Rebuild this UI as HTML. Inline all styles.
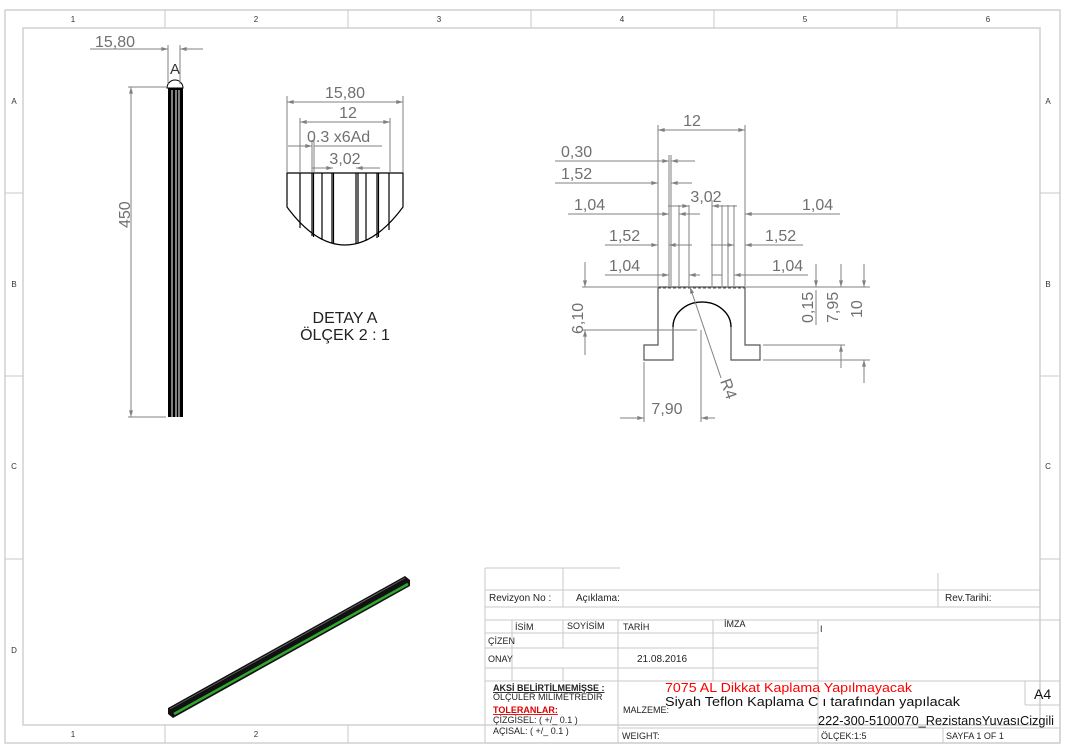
<!DOCTYPE html>
<html><head><meta charset="utf-8"><style>
body{margin:0;background:#fff}
svg{display:block}
text{font-family:"Liberation Sans","DejaVu Sans",sans-serif}
.d{stroke:#808080;stroke-width:1;fill:none}
.t{fill:#707070;font-size:16px}
.k{stroke:#000;fill:none;stroke-width:1.2}
.f{stroke:#d0d0d0;fill:none;stroke-width:1.5}
.g{stroke:#c8c8c8;fill:none;stroke-width:1}
.s{font-size:9px;fill:#222}
.z{font-size:8px;fill:#333}
</style></head><body>
<svg width="1071" height="753" viewBox="0 0 1071 753" xmlns="http://www.w3.org/2000/svg">
<defs>
<marker id="a" viewBox="0 0 10 6" refX="10" refY="3" markerWidth="10" markerHeight="4" orient="auto-start-reverse" markerUnits="userSpaceOnUse"><path d="M0,0L10,3L0,6z" fill="#808080"/></marker>
</defs>
<rect x="5" y="10" width="1055" height="733" class="f"/>
<rect x="23" y="28" width="1017" height="697" class="f"/>
<g class="g">
<line x1="165" y1="10" x2="165" y2="28"/><line x1="348" y1="10" x2="348" y2="28"/><line x1="531" y1="10" x2="531" y2="28"/><line x1="714" y1="10" x2="714" y2="28"/><line x1="897" y1="10" x2="897" y2="28"/>
<line x1="165" y1="725" x2="165" y2="743"/><line x1="348" y1="725" x2="348" y2="743"/>
<line x1="5" y1="193" x2="23" y2="193"/><line x1="5" y1="376" x2="23" y2="376"/><line x1="5" y1="559" x2="23" y2="559"/>
<line x1="1040" y1="193" x2="1060" y2="193"/><line x1="1040" y1="376" x2="1060" y2="376"/><line x1="1040" y1="559" x2="1060" y2="559"/>
</g>
<g class="z" text-anchor="middle">
<text x="73" y="22">1</text><text x="256" y="22">2</text><text x="439" y="22">3</text><text x="622" y="22">4</text><text x="805" y="22">5</text><text x="988" y="22">6</text>
<text x="73" y="737">1</text><text x="256" y="737">2</text>
<text x="14" y="104">A</text><text x="14" y="287">B</text><text x="14" y="469">C</text><text x="14" y="653">D</text>
<text x="1048" y="104">A</text><text x="1048" y="287">B</text><text x="1048" y="469">C</text>
</g>

<rect x="168" y="88" width="15" height="329" fill="#000"/>
<line x1="172" y1="90" x2="172" y2="417" stroke="#fff" stroke-width="1"/>
<line x1="176" y1="90" x2="176" y2="417" stroke="#fff" stroke-width="1"/>
<line x1="179" y1="90" x2="179" y2="417" stroke="#fff" stroke-width="1"/>
<path d="M167,88 A8,8 0 0 1 183,88 Z" fill="#fff" stroke="#000"/>
<text x="175" y="74" text-anchor="middle" font-size="15" fill="#333">A</text>
<g class="d">
<line x1="128" y1="87" x2="166" y2="87"/><line x1="128" y1="417" x2="166" y2="417"/>
<line x1="131" y1="87" x2="131" y2="417" marker-start="url(#a)" marker-end="url(#a)"/>
<line x1="168" y1="45" x2="168" y2="84"/><line x1="180" y1="45" x2="180" y2="84"/>
<line x1="90" y1="49" x2="168" y2="49" marker-end="url(#a)"/><line x1="203" y1="49" x2="180" y2="49" marker-end="url(#a)"/>
</g>
<text class="t" x="95" y="47">15,80</text>
<text class="t" transform="translate(130,228) rotate(-90)">450</text>

<path d="M287,173 L403,173 L403,207 Q375,245 345,245 Q315,245 287,207 Z" class="k"/>
<g class="k" stroke-width="1">
<line x1="300" y1="173" x2="300" y2="228"/><line x1="312" y1="173" x2="312" y2="236"/><line x1="313.5" y1="173" x2="313.5" y2="237"/>
<line x1="322" y1="173" x2="322" y2="240"/><line x1="332" y1="173" x2="332" y2="243"/><line x1="333.5" y1="173" x2="333.5" y2="243"/>
<line x1="356" y1="173" x2="356" y2="243"/><line x1="358" y1="173" x2="358" y2="243"/><line x1="366" y1="173" x2="366" y2="241"/>
<line x1="377" y1="173" x2="377" y2="238"/><line x1="378.5" y1="173" x2="378.5" y2="237"/><line x1="389" y1="173" x2="389" y2="230"/>
</g>
<g class="d">
<line x1="287" y1="96" x2="287" y2="172"/><line x1="403" y1="96" x2="403" y2="172"/>
<line x1="287" y1="102" x2="403" y2="102" marker-start="url(#a)" marker-end="url(#a)"/>
<line x1="300" y1="118" x2="300" y2="172"/><line x1="390" y1="118" x2="390" y2="172"/>
<line x1="300" y1="122" x2="390" y2="122" marker-start="url(#a)" marker-end="url(#a)"/>
<line x1="288" y1="146" x2="312" y2="146" marker-end="url(#a)"/><line x1="382" y1="146" x2="314" y2="146"/>
<line x1="312" y1="140" x2="312" y2="172"/><line x1="314" y1="140" x2="314" y2="172"/>
<line x1="312" y1="168" x2="333" y2="168" marker-end="url(#a)"/><line x1="380" y1="168" x2="356" y2="168" marker-end="url(#a)"/>
</g>
<text class="t" x="345" y="98" text-anchor="middle">15,80</text>
<text class="t" x="348" y="118" text-anchor="middle">12</text>
<text class="t" x="307" y="142">0.3 x6Ad</text>
<text class="t" x="345" y="164" text-anchor="middle">3,02</text>
<text x="345" y="323" text-anchor="middle" font-size="16" fill="#222">DETAY A</text>
<text x="345" y="340" text-anchor="middle" font-size="16" fill="#222">ÖLÇEK 2 : 1</text>

<path d="M658,287 L745,287 L745,345 L760,345 L760,360 L731,360 L731,327 A29,25 0 0 0 673,327 L673,360 L644,360 L644,345 L658,345 Z" stroke="#555" stroke-width="1.2" fill="none"/>
<path d="M731,327 A29,25 0 0 0 673,327" stroke="#000" stroke-width="1.3" fill="none"/>
<g stroke="#555" stroke-width="1" stroke-dasharray="3,2">
<line x1="658" y1="288" x2="745" y2="288"/>
</g>
<g class="d">
<line x1="658" y1="125" x2="658" y2="286"/><line x1="745" y1="125" x2="745" y2="286"/>
<line x1="658" y1="130" x2="745" y2="130" marker-start="url(#a)" marker-end="url(#a)"/>
<line x1="669" y1="155" x2="669" y2="286"/><line x1="671" y1="155" x2="671" y2="286"/>
<line x1="679" y1="205" x2="679" y2="286"/><line x1="689" y1="205" x2="689" y2="286"/>
<line x1="712" y1="200" x2="712" y2="286"/><line x1="722" y1="205" x2="722" y2="286"/>
<line x1="728" y1="205" x2="728" y2="286"/><line x1="734" y1="205" x2="734" y2="286"/>
<line x1="555" y1="161" x2="669" y2="161" marker-end="url(#a)"/><line x1="695" y1="161" x2="671" y2="161" marker-end="url(#a)"/>
<line x1="555" y1="183" x2="658" y2="183" marker-end="url(#a)"/><line x1="692" y1="183" x2="671" y2="183" marker-end="url(#a)"/>
<line x1="568" y1="214" x2="669" y2="214" marker-end="url(#a)"/><line x1="700" y1="214" x2="679" y2="214" marker-end="url(#a)"/>
<line x1="668" y1="206" x2="689" y2="206" marker-end="url(#a)"/><line x1="737" y1="206" x2="712" y2="206" marker-end="url(#a)"/>
<line x1="840" y1="214" x2="745" y2="214" marker-end="url(#a)"/>
<line x1="605" y1="245" x2="658" y2="245" marker-end="url(#a)"/><line x1="692" y1="245" x2="669" y2="245" marker-end="url(#a)"/>
<line x1="711" y1="245" x2="734" y2="245" marker-end="url(#a)"/><line x1="803" y1="245" x2="745" y2="245" marker-end="url(#a)"/>
<line x1="605" y1="275" x2="669" y2="275" marker-end="url(#a)"/><line x1="700" y1="275" x2="689" y2="275" marker-end="url(#a)"/>
<line x1="712" y1="275" x2="722" y2="275"/><line x1="808" y1="275" x2="734" y2="275" marker-end="url(#a)"/>
<line x1="582" y1="287" x2="657" y2="287"/><line x1="582" y1="330" x2="697" y2="330"/>
<line x1="585" y1="262" x2="585" y2="287" marker-end="url(#a)"/><line x1="585" y1="355" x2="585" y2="330" marker-end="url(#a)"/>
<line x1="746" y1="287" x2="870" y2="287"/><line x1="763" y1="345" x2="845" y2="345"/><line x1="763" y1="360" x2="870" y2="360"/>
<line x1="816" y1="264" x2="816" y2="287" marker-end="url(#a)"/><line x1="816" y1="325" x2="816" y2="290"/>
<line x1="841" y1="264" x2="841" y2="287" marker-end="url(#a)"/><line x1="841" y1="368" x2="841" y2="345" marker-end="url(#a)"/>
<line x1="864" y1="264" x2="864" y2="287" marker-end="url(#a)"/><line x1="864" y1="383" x2="864" y2="360" marker-end="url(#a)"/>
<line x1="721" y1="378" x2="690" y2="287" marker-end="url(#a)"/>
<line x1="644" y1="362" x2="644" y2="422"/><line x1="701" y1="330" x2="701" y2="422"/>
<line x1="620" y1="418" x2="644" y2="418" marker-end="url(#a)"/><line x1="715" y1="418" x2="701" y2="418" marker-end="url(#a)"/>
</g>
<g class="t">
<text x="692" y="126" text-anchor="middle">12</text>
<text x="561" y="157">0,30</text>
<text x="561" y="179">1,52</text>
<text x="574" y="210">1,04</text>
<text x="706" y="202" text-anchor="middle">3,02</text>
<text x="802" y="210">1,04</text>
<text x="609" y="241">1,52</text>
<text x="765" y="241">1,52</text>
<text x="609" y="271">1,04</text>
<text x="772" y="271">1,04</text>
<text x="667" y="414" text-anchor="middle">7,90</text>
<text transform="translate(583,334) rotate(-90)">6,10</text>
<text transform="translate(813,323) rotate(-90)">0,15</text>
<text transform="translate(838,323) rotate(-90)">7,95</text>
<text transform="translate(862,318) rotate(-90)">10</text>
<text transform="translate(720,381) rotate(70)">R4</text>
</g>

<polygon points="168,708 405,576 410,580 410,586 173,718 168,714" fill="#111"/>
<line x1="174" y1="714" x2="408" y2="584" stroke="#2fa82f" stroke-width="2.5"/>
<line x1="170" y1="709" x2="405" y2="578" stroke="#777" stroke-width="0.7"/>

<g class="g" stroke="#bbb">
<line x1="485" y1="568" x2="620" y2="568"/>
<line x1="485" y1="590" x2="1040" y2="590"/>
<line x1="485" y1="607" x2="1040" y2="607"/>
<line x1="485" y1="568" x2="485" y2="743"/>
<line x1="563" y1="568" x2="563" y2="607"/>
<line x1="938" y1="573" x2="938" y2="607"/>
<line x1="1040" y1="573" x2="1040" y2="607"/>
<line x1="485" y1="620" x2="1060" y2="620"/>
<line x1="485" y1="633" x2="818" y2="633"/>
<line x1="485" y1="648" x2="818" y2="648"/>
<line x1="485" y1="668" x2="818" y2="668"/>
<line x1="485" y1="681" x2="1060" y2="681"/>
<line x1="512" y1="620" x2="512" y2="681"/>
<line x1="563" y1="620" x2="563" y2="648"/>
<line x1="563" y1="668" x2="563" y2="681"/>
<line x1="618" y1="620" x2="618" y2="743"/>
<line x1="713" y1="620" x2="713" y2="681"/>
<line x1="818" y1="620" x2="818" y2="743"/>
<line x1="1025" y1="681" x2="1025" y2="705"/>
<line x1="1025" y1="705" x2="1060" y2="705"/>
<line x1="618" y1="728" x2="1060" y2="728"/>
<line x1="943" y1="728" x2="943" y2="743"/>
<line x1="485" y1="743" x2="1060" y2="743"/>
<line x1="1060" y1="620" x2="1060" y2="743"/>
</g>
<text x="489" y="601" font-size="10" fill="#222">Revizyon No :</text>
<text x="576" y="601" font-size="10" fill="#222">Açıklama:</text>
<text x="945" y="601" font-size="10" fill="#222">Rev.Tarihi:</text>
<g class="s" font-size="7">
<text x="515" y="630">İSİM</text><text x="567" y="629">SOYİSİM</text><text x="623" y="630">TARİH</text><text x="724" y="627">İMZA</text><text x="820" y="632">I</text>
<text x="488" y="644">ÇİZEN</text><text x="488" y="662">ONAY</text>
<text x="623" y="713">MALZEME:</text>
<text x="622" y="739">WEIGHT:</text><text x="821" y="739">ÖLÇEK:1:5</text><text x="946" y="739">SAYFA 1 OF 1</text>
<text x="493" y="691" font-weight="bold" text-decoration="underline">AKSİ BELİRTİLMEMİŞSE :</text>
<text x="493" y="700">ÖLÇÜLER MİLİMETREDİR</text>
<text x="493" y="713" font-weight="bold" fill="#d00" text-decoration="underline">TOLERANLAR:</text>
<text x="493" y="723">ÇİZGİSEL: ( +/_ 0.1 )</text>
<text x="493" y="734">AÇISAL: ( +/_ 0.1 )</text>
</g>
<text x="637" y="662" font-size="10" fill="#222">21.08.2016</text>
<text x="665" y="692" font-size="13" fill="#f00" textLength="247" lengthAdjust="spacingAndGlyphs">7075 AL Dikkat Kaplama Yapılmayacak</text>
<text x="665" y="706" font-size="13" fill="#111" textLength="295" lengthAdjust="spacingAndGlyphs">Siyah Teflon Kaplama C      ı tarafından yapılacak</text>
<text x="818" y="725" font-size="13" fill="#111" textLength="236" lengthAdjust="spacingAndGlyphs">222-300-5100070_RezistansYuvasıCizgili</text>
<text x="1034" y="699" font-size="14" fill="#111">A4</text>
</svg>
</body></html>
